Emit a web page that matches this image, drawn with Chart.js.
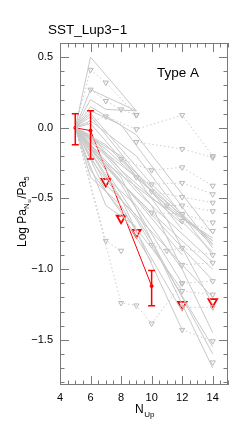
<!DOCTYPE html>
<html>
<head>
<meta charset="utf-8">
<script src="https://cdn.jsdelivr.net/npm/chart.js@4.4.1/dist/chart.umd.min.js"></script>
<style>
  html, body { margin: 0; padding: 0; background: #fff; }
  #wrap { width: 240px; height: 428px; }
</style>
</head>
<body>
<div id="wrap"><canvas id="ratioChart"></canvas></div>
<script>
const _ = null;

// upper level of the Paschen line, x axis
const nUp = [5, 6, 7, 8, 9, 10, 11, 12, 13, 14];
const xTicks = [4, 6, 8, 10, 12, 14];
const yTicks = [0.5, 0.0, -0.5, -1.0, -1.5];

// SST_Lup3-1 (red): detections with errors, and upper limits
const redDet = [0.0, -0.02, _, _, _, -1.12, _, _, _, _];
const redHi  = [0.10, 0.12, _, _, _, -1.01, _, _, _, _];
const redLo  = [-0.12, -0.22, _, _, _, -1.26, _, _, _, _];
const redLim = [_, _, -0.38, -0.64, -0.74, _, _, -1.25, _, -1.23];

// other sources (grey): detections, solid lines
const otherDet = [
  [0, 0.50, _, _, 0.12, _, _, _, _, _],
  [0, 0.27, _, _, 0.12, _, _, _, _, _],
  [0, 0.20, 0.13, _, 0.12, _, _, _, _, _],
  [0, 0.12, _, 0.02, _, _, _, _, _, -0.85],
  [0, 0.08, -0.05, _, _, _, _, -0.72, _, _],
  [0, 0.03, _, -0.22, _, _, _, _, _, -0.83],
  [0, _, -0.12, _, _, -0.45, _, _, _, -0.88],
  [0, _, -0.18, _, -0.35, _, _, _, _, -0.80],
  [0, -0.08, _, -0.30, _, _, _, -0.68, _, _],
  [0, _, -0.28, _, _, -0.60, _, _, _, -1.00],
  [0, -0.15, _, _, -0.50, _, _, _, _, -1.08],
  [0, _, -0.35, _, -0.55, _, _, -1.00, _, _],
  [0, _, _, -0.40, _, _, _, -1.10, _, _],
  [0, _, -0.30, _, _, -0.80, _, _, _, -1.60],
  [0, _, _, -0.50, _, _, _, -1.43, _, _],
  [0, _, _, -0.35, _, _, _, _, _, -1.70],
  [0, -0.22, _, _, -0.65, _, _, _, _, -1.55],
  [0, _, -0.45, _, _, -0.85, _, -1.15, _, _],
  [0, -0.30, _, -0.60, _, -0.95, _, _, _, _],
  [0, _, -0.15, _, _, _, -0.55, _, _, -0.80],
  [0, 0.05, _, _, -0.20, _, _, _, _, -0.90],
  [0, _, _, -0.20, _, _, -0.65, _, _, -1.25],
  [0, -0.05, _, _, _, -0.55, _, _, _, -1.45],
  [0, _, -0.55, _, -0.70, _, _, _, _, _],
  [0, -0.35, _, -0.55, _, _, _, -1.30, _, _],
  [0, 0.10, _, -0.15, _, -0.40, _, _, _, -0.82],
  [0, _, -0.25, _, _, -0.50, _, _, _, -0.78],
  [0, _, -0.20, _, -0.45, _, _, _, _, -0.95],
  [0, -0.12, _, -0.38, _, _, _, -0.90, _, _],
  [0, _, -0.40, _, -0.62, _, _, _, _, -1.20],
  [0, 0.15, _, _, -0.05, _, _, _, _, -0.75]
];

// other sources (grey): upper limits, dotted lines (row starting with 0 = anchored at Pa5)
const otherLim = [
  [0, 0.41, 0.32, _, 0.09, _, _, _, _, _],
  [_, 0.27, 0.19, 0.13, 0.09, _, _, _, _, _],
  [0, _, 0.08, _, -0.01, _, _, 0.09, _, -0.20],
  [_, _, _, _, -0.10, _, _, -0.15, _, -0.21],
  [_, _, _, -0.22, _, -0.30, _, -0.28, _, -0.41],
  [_, _, _, _, -0.35, -0.40, _, -0.39, _, -0.47],
  [_, _, _, _, _, -0.45, _, -0.49, _, -0.53],
  [_, _, _, _, _, _, -0.55, -0.55, _, -0.59],
  [_, _, _, _, _, -0.60, _, -0.61, _, -0.67],
  [_, _, _, _, _, _, _, -0.66, _, -0.73],
  [_, _, _, _, _, -0.83, -0.87, -0.85, _, -0.90],
  [_, _, _, _, _, _, _, -0.97, _, -0.955],
  [_, _, _, _, _, _, _, -1.10, _, -1.085],
  [_, _, _, _, _, _, _, -1.155, _, -1.18],
  [_, _, _, _, _, _, _, -1.43, _, -1.51],
  [_, _, _, _, _, _, _, -1.27, _, -1.27],
  [_, _, _, _, _, _, _, _, _, -1.66],
  [0, _, -0.80, -0.87, _, _, _, _, _, _],
  [0, _, _, -1.24, -1.257, -1.385, _, -1.10, _, _]
];

const grey = '#c8c8c8';
const red = '#ff0000';

function toPoints(arr) {
  return arr.map((v, i) => v === null ? null : { x: nUp[i], y: v }).filter(Boolean);
}

const datasets = [];

otherDet.forEach(arr => {
  datasets.push({
    data: toPoints(arr),
    showLine: true,
    borderColor: grey,
    borderWidth: 1,
    pointRadius: 0
  });
});

otherLim.forEach(arr => {
  const pts = toPoints(arr);
  datasets.push({
    data: pts,
    showLine: true,
    borderColor: '#cccccc',
    borderWidth: 1,
    borderDash: [1.5, 2.5],
    pointStyle: 'triangle',
    rotation: 180,
    pointRadius: ctx => (ctx.dataIndex === 0 && arr[0] === 0) ? 0 : 3,
    pointBorderColor: '#b8b8b8',
    pointBackgroundColor: 'rgba(255,255,255,0)',
    pointBorderWidth: 1
  });
});

datasets.push({
  data: toPoints(redDet),
  showLine: true,
  borderColor: red,
  borderWidth: 1,
  pointRadius: 1.5,
  pointBackgroundColor: red,
  pointBorderColor: red
});

datasets.push({
  data: toPoints(redLim),
  showLine: false,
  pointStyle: 'triangle',
  rotation: 180,
  pointRadius: 5,
  pointBorderColor: red,
  pointBackgroundColor: 'rgba(255,255,255,0)',
  pointBorderWidth: 1.8
});

// error bars for the red detections
const errorBars = {
  id: 'errorBars',
  afterDatasetsDraw(chart) {
    const { ctx, scales: { x, y } } = chart;
    ctx.save();
    ctx.strokeStyle = red;
    ctx.lineWidth = 1.5;
    nUp.forEach((n, i) => {
      if (redHi[i] === null) return;
      const px = x.getPixelForValue(n);
      const top = y.getPixelForValue(redHi[i]);
      const bot = y.getPixelForValue(redLo[i]);
      ctx.beginPath();
      ctx.moveTo(px, top); ctx.lineTo(px, bot);
      ctx.moveTo(px - 3.5, top); ctx.lineTo(px + 3.5, top);
      ctx.moveTo(px - 3.5, bot); ctx.lineTo(px + 3.5, bot);
      ctx.stroke();
    });
    ctx.restore();
  }
};

// IDL-like frame with inward ticks, titles with subscripts
const frame = {
  id: 'frame',
  afterDraw(chart) {
    const { ctx, chartArea: a, scales: { x, y } } = chart;
    ctx.save();
    ctx.strokeStyle = '#7a7a7a';
    ctx.lineWidth = 1;
    ctx.strokeRect(a.left + 0.5, a.top + 0.5, a.width - 1, a.height - 1);

    ctx.beginPath();
    for (let v = 4; v <= 15.001; v += 0.5) {
      const px = Math.round(x.getPixelForValue(v)) + 0.5;
      const len = (Math.abs(v % 2) < 0.01) ? 9 : 4.5;
      ctx.moveTo(px, a.bottom); ctx.lineTo(px, a.bottom - len);
      ctx.moveTo(px, a.top); ctx.lineTo(px, a.top + len);
    }
    for (let k = -18; k <= 6; k++) {
      const v = k / 10;
      const py = Math.round(y.getPixelForValue(v)) + 0.5;
      const len = (k % 5 === 0) ? 9 : 4.5;
      ctx.moveTo(a.left, py); ctx.lineTo(a.left + len, py);
      ctx.moveTo(a.right, py); ctx.lineTo(a.right - len, py);
    }
    ctx.stroke();

    ctx.fillStyle = '#000';
    ctx.textBaseline = 'alphabetic';
    ctx.textAlign = 'left';
    ctx.font = '13.5px "Liberation Sans", Arial, sans-serif';
    ctx.fillText('SST_Lup3\u22121', 48, 34);
    ctx.fillText('Type A', 157, 77);

    // x title: N_Up
    ctx.font = '12px "Liberation Sans", Arial, sans-serif';
    ctx.fillText('N', 135, 413);
    const nw = ctx.measureText('N').width;
    ctx.font = '8px "Liberation Sans", Arial, sans-serif';
    ctx.fillText('Up', 135 + nw + 0.5, 416.5);

    // y title: Log Pa_{N_u}/Pa_5
    ctx.translate(26, 247);
    ctx.rotate(-Math.PI / 2);
    let cx = 0;
    const big = '12px "Liberation Sans", Arial, sans-serif';
    const sub = '8px "Liberation Sans", Arial, sans-serif';
    const tiny = '6px "Liberation Sans", Arial, sans-serif';
    const parts = [
      ['Log Pa', big, 0],
      ['N', sub, 3],
      ['u', tiny, 5],
      ['/Pa', big, 0],
      ['5', sub, 3]
    ];
    parts.forEach(([t, f, dy]) => {
      ctx.font = f;
      ctx.fillText(t, cx, dy);
      cx += ctx.measureText(t).width + (dy ? 0.5 : 0);
    });
    ctx.restore();
  }
};

const fontTicks = { family: '"Liberation Sans", Arial, sans-serif', size: 11 };

new Chart(document.getElementById('ratioChart'), {
  type: 'scatter',
  data: { datasets: datasets },
  options: {
    responsive: true,
    maintainAspectRatio: false,
    animation: false,
    layout: { padding: { top: 43, right: 12, bottom: 0, left: 0 } },
    plugins: {
      legend: { display: false },
      tooltip: { enabled: false },
      title: { display: false }
    },
    scales: {
      x: {
        type: 'linear',
        min: 4,
        max: 15,
        grid: { display: false, drawTicks: false },
        border: { display: false },
        afterBuildTicks: scale => { scale.ticks = xTicks.map(v => ({ value: v })); },
        afterFit: scale => { scale.height = 43; },
        ticks: {
          autoSkip: false,
          maxRotation: 0,
          padding: 6,
          color: '#000',
          font: fontTicks,
          callback: v => String(v)
        }
      },
      y: {
        type: 'linear',
        min: -1.82,
        max: 0.6,
        grid: { display: false, drawTicks: false },
        border: { display: false },
        afterBuildTicks: scale => { scale.ticks = yTicks.map(v => ({ value: v })); },
        afterFit: scale => { scale.width = 60; },
        ticks: {
          autoSkip: false,
          padding: 7,
          color: '#000',
          font: fontTicks,
          callback: v => v.toFixed(1).replace('-', '\u2212')
        }
      }
    }
  },
  plugins: [errorBars, frame]
});
</script>
</body>
</html>
